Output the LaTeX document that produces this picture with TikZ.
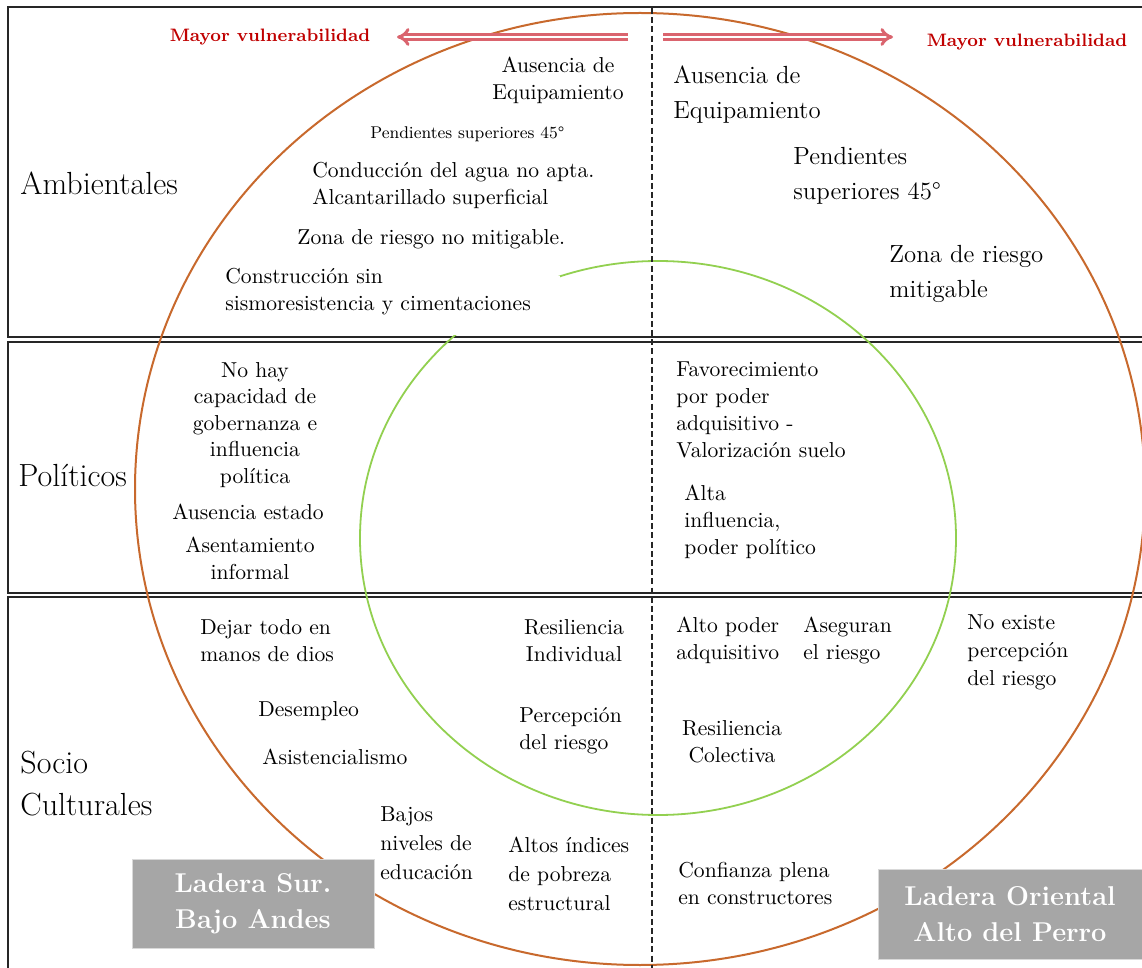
\documentclass[tikz,border=0pt]{standalone}
\usepackage{fontspec}
\usepackage{tikz}
\usetikzlibrary{arrows.meta}

\definecolor{ringorange}{RGB}{200,105,45}
\definecolor{ringgreen}{RGB}{146,208,80}
\definecolor{vulnred}{RGB}{192,0,0}
\definecolor{arrowred}{RGB}{218,100,110}
\definecolor{ladgray}{RGB}{166,166,166}

\begin{document}
\begin{tikzpicture}[x=0.5pt,y=-0.5pt,
	txt/.style={inner sep=0pt,align=left,font=\fontsize{10.8}{13.5}\selectfont},
	bigtxt/.style={inner sep=0pt,align=left,font=\fontsize{12.4}{17.5}\selectfont},
	rowlabel/.style={inner sep=0pt,align=left,font=\fontsize{16}{21}\selectfont},
	rowbox/.style={draw=black!85,line width=1pt},
	ladera/.style={fill=ladgray,draw=black!15,line width=0.5pt,text=white,align=center,inner sep=0pt,font=\bfseries\fontsize{13.6}{18}\selectfont},
	vuln/.style={text=vulnred,inner sep=0pt,font=\bfseries\fontsize{9}{11}\selectfont},
	vulnarrow/.style={draw=arrowred,double=white,line width=1.5pt,double distance=1.3pt,-{Implies}}]
		\useasboundingbox (0,0) rectangle (1142,968);
		\fill[white] (0,0) rectangle (1142,968);

		% >>> rows
		\draw[rowbox] (8,7) rectangle (1160,337);
		\draw[rowbox] (8,342) rectangle (1160,593);
		\draw[rowbox] (8,597) rectangle (1160,990);
		\node[rowlabel,anchor=west] (ambL) at (20,183) {Ambientales};
		\node[rowlabel,anchor=west] (polL) at (18,475) {Políticos};
		\node[rowlabel,anchor=west] (socL) at (20,784) {Socio\\Culturales};
		% <<< rows

		% >>> rings
		\draw[ringorange,line width=1pt] (640,489) ellipse [x radius=252.5pt,y radius=238pt];
		\draw[ringgreen,line width=0.9pt] (658,538) ellipse [x radius=149pt,y radius=138.5pt];
		\fill[white] (220,276) rectangle (560,335.5);
		% <<< rings

		% >>> divider
		\coordinate (divT) at (652,8);
		\coordinate (divB) at (652,968);
		\draw[black!85,line width=0.8pt,dash pattern=on 3pt off 1.6pt] (divT) -- (divB);
		% <<< divider

		% >>> ambientales
		\node[txt,align=center] (eqL) at (558,80) {Ausencia de\\Equipamiento};
		\node[txt,anchor=west,font=\fontsize{8.5}{10}\selectfont] (pendL) at (370,134) {Pendientes superiores 45°};
		\node[txt,anchor=west] (condL) at (312,185.5) {Conducción del agua no apta.\\Alcantarillado superficial};
		\node[txt,anchor=west] (zonaL) at (297,239) {Zona de riesgo no mitigable.};
		\node[txt,anchor=west] (consL) at (225,291.5) {Construcción sin\\sismoresistencia y cimentaciones};

		\node[bigtxt,anchor=west] (eqR) at (673,94.5) {Ausencia de\\Equipamiento};
		\node[bigtxt,anchor=west] (pendR) at (793,175.5) {Pendientes\\superiores 45°};
		\node[bigtxt,anchor=west] (zonaR) at (889,273.5) {Zona de riesgo\\mitigable};
		% <<< ambientales

		% >>> politicos
		\node[txt,align=center,font=\fontsize{10.8}{13.25}\selectfont] (gobL) at (255,425) {No hay\\capacidad de\\gobernanza e\\influencia\\política};
		\node[txt,align=center] (ausL) at (248,512) {Ausencia estado};
		\node[txt,align=center] (asenL) at (250,558.5) {Asentamiento\\informal};

		\node[txt,anchor=west] (favR) at (676,410) {Favorecimiento\\por poder\\adquisitivo -\\Valorización suelo};
		\node[txt,anchor=west] (altaR) at (684,522) {Alta\\influencia,\\poder político};
		% <<< politicos

		% >>> socio culturales
		\node[txt,anchor=west] (dejarL) at (200,640.5) {Dejar todo en\\manos de dios};
		\node[txt,anchor=west] (desL) at (258,711) {Desempleo};
		\node[txt,anchor=west] (asisL) at (262,757) {Asistencialismo};
		\node[txt,anchor=west,font=\fontsize{10.8}{14.5}\selectfont] (bajosL) at (380,843.5) {Bajos\\niveles de\\educación};
		\node[txt,align=center] (resiL) at (574,641) {Resiliencia\\Individual};
		\node[txt,anchor=west] (percL) at (519,731) {Percepción\\del riesgo};
		\node[txt,anchor=west,font=\fontsize{10.8}{14.5}\selectfont] (altosL) at (508,874) {Altos índices\\de pobreza\\estructural};

		\node[txt,anchor=west] (poderR) at (676,640.5) {Alto poder\\adquisitivo};
		\node[txt,anchor=west] (asegR) at (803,640.5) {Aseguran\\el riesgo};
		\node[txt,anchor=west,font=\fontsize{10.8}{14}\selectfont] (noexR) at (967,652) {No existe\\percepción\\del riesgo};
		\node[txt,align=center] (resiR) at (732,742) {Resiliencia\\Colectiva};
		\node[txt,anchor=west] (confR) at (678,884) {Confianza plena\\en constructores};
		% <<< socio culturales

		% >>> laderas
		\node[ladera,minimum width=121pt,minimum height=44.5pt] (surBox) at (253,903.5) {Ladera Sur.\\Bajo Andes};
		\node[ladera,minimum width=132pt,minimum height=45pt] (oriBox) at (1010,914) {Ladera Oriental\\Alto del Perro};
		% <<< laderas

		% >>> vulnerabilidad
		\node[vuln] (mayorL) at (270,37) {Mayor vulnerabilidad};
		\node[vuln] (mayorR) at (1027,42) {Mayor vulnerabilidad};
		\coordinate (arrLs) at (628,37);
		\coordinate (arrLe) at (397,37);
		\coordinate (arrRs) at (663,37);
		\coordinate (arrRe) at (893,37);
		\draw[vulnarrow] (arrLs) -- (arrLe);
		\draw[vulnarrow] (arrRs) -- (arrRe);
		% <<< vulnerabilidad
	\end{tikzpicture}
\end{document}
